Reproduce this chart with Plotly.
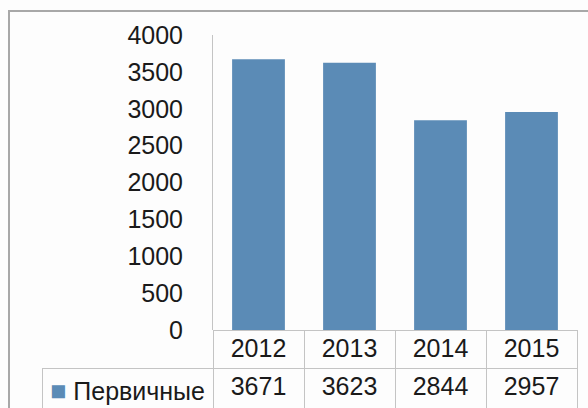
import plotly.graph_objs as go

# Data
years = ['2012', '2013', '2014', '2015']
series_name = 'Первичные'
values = [3671, 3623, 2844, 2957]
y_ticks = [0, 500, 1000, 1500, 2000, 2500, 3000, 3500, 4000]

W, H = 588, 408
bar_color = '#5b8bb6'
grid_color = '#c4c4c4'
font = dict(family='Liberation Sans, Arial, sans-serif', size=25, color='#1a1a1a')


def px_x(p):
    return p / W


def px_y(p):
    return 1 - p / H


bars = go.Bar(x=list(range(len(years))), y=values, marker=dict(color=bar_color, line=dict(width=0)),
              width=0.58, showlegend=False, hoverinfo='skip')

# data table under the chart (header = years, one row of values)
# the trailing <br> stops plotly from word-wrapping (and breaking) the span tag
legend_label = "<span style='color:%s;font-size:27px'>■</span>\u00a0%s<br>" % (bar_color, series_name)
table = go.Table(
    domain=dict(x=[px_x(42), px_x(577)], y=[0, px_y(330)]),
    columnwidth=[171, 91, 91, 91, 91],
    header=dict(values=[''] + years,
                line=dict(color=['rgba(0,0,0,0)'] + [grid_color] * len(years), width=1),
                fill=dict(color='rgba(0,0,0,0)'),
                align='center', height=38, font=font),
    cells=dict(values=[[legend_label]] + [[str(v)] for v in values],
               line=dict(color=grid_color, width=1),
               fill=dict(color='rgba(0,0,0,0)'),
               align=['left', 'center', 'center', 'center', 'center'], height=37, font=font))

layout = go.Layout(
    width=W, height=H, margin=dict(l=0, r=0, t=0, b=0),
    paper_bgcolor='#fdfdfd', plot_bgcolor='rgba(0,0,0,0)', font=font,
    xaxis=dict(domain=[px_x(213), px_x(577)], range=[-0.5, 3.5], showticklabels=False,
               showgrid=False, zeroline=False, showline=False, automargin=False),
    yaxis=dict(domain=[px_y(330), px_y(35)], range=[0, 4000], tickvals=y_ticks,
               showgrid=False, zeroline=False, showline=True, linecolor=grid_color, linewidth=1,
               ticks='', ticklabelstandoff=24, tickfont=font, automargin=False),
    shapes=[dict(type='rect', xref='paper', yref='paper', x0=px_x(9), x1=px_x(600), y0=px_y(420), y1=px_y(11),
                 line=dict(color='#a8a8a8', width=2))],
    showlegend=False)

fig = go.Figure(data=[bars, table], layout=layout)
fig.write_html('out.html', config={'displayModeBar': False},
               post_script="document.body.style.margin='0';")
